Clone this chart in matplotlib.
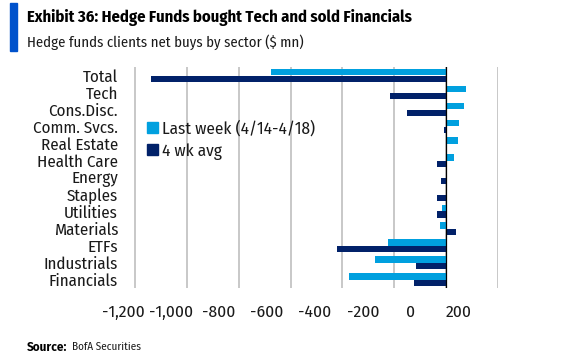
import matplotlib.pyplot as plt
import matplotlib.patches as mpatches
import numpy as np

plt.rcParams['font.family'] = ['Fira Sans Condensed', 'DejaVu Sans']

sectors = ["Total", "Tech", "Cons.Disc.", "Comm. Svcs.", "Real Estate", "Health Care",
           "Energy", "Staples", "Utilities", "Materials", "ETFs", "Industrials", "Financials"]
last_week = [-674, 75, 67, 50, 46, 31, -2, -2, -15, -23, -226, -275, -373]
four_wk_avg = [-1139, -218, -151, -8, 3, -34, -19, -36, -35, 39, -422, -116, -125]
xticks = [-1200, -1000, -800, -600, -400, -200, 0, 200]

light = "#00A0DF"
dark = "#012169"

W, H = 568, 357
fig = plt.figure(figsize=(W / 100, H / 100), dpi=100)
px_per = 363 / 1400
left_px = 135 - 60 * px_per
ax = fig.add_axes([left_px / W, 1 - 288 / H, (498 - left_px) / W, 221 / H])

y = np.arange(len(sectors))
ax.barh(y - 0.2, last_week, height=0.4, color=light, label="Last week (4/14-4/18)", zorder=3)
ax.barh(y + 0.2, four_wk_avg, height=0.4, color=dark, label="4 wk avg", zorder=3)
ax.axvline(0, color="black", lw=0.9, zorder=4)

ax.set_xlim(-1260, 200)
ax.set_ylim(len(sectors) - 0.5, -0.5)
ax.set_xticks(xticks)
ax.grid(axis="x", color="#BFBFBF", lw=1.2, zorder=0)
ax.tick_params(axis="x", labelbottom=False, length=0)
ax.set_yticks(y)
ax.set_yticklabels(sectors, fontsize=12.2, color="#1a1a1a")
ax.tick_params(axis="y", length=0, pad=1)
for s in ax.spines.values():
    s.set_visible(False)


# tick labels sit on their own scale in the original
def fwd(v):
    px = 135 + (np.asarray(v) + 1200) * px_per
    return (px - 411) / 0.24


def inv(v):
    px = 411 + 0.24 * np.asarray(v)
    return (px - 135) / px_per - 1200


sec = ax.secondary_xaxis("bottom", functions=(fwd, inv))
sec.set_xticks(xticks)
sec.set_xticklabels([f"{t:,}" for t in xticks], fontsize=12.5, color="#1a1a1a")
sec.tick_params(length=0, pad=12)
sec.spines["bottom"].set_visible(False)

handles = [mpatches.Patch(color=light), mpatches.Patch(color=dark)]
fig.legend(handles, ["Last week (4/14-4/18)", "4 wk avg"], loc="upper left",
           bbox_to_anchor=(147 / W, 1 - 120 / H), frameon=False, fontsize=12.4,
           handlelength=0.65, handleheight=0.6, handletextpad=0.2,
           labelspacing=0.37, borderpad=0, borderaxespad=0, labelcolor="#1a1a1a")

fig.patches.append(mpatches.Rectangle((10 / W, 1 - 51 / H), 7 / W, 48 / H,
                                      transform=fig.transFigure, color="#0052CC"))
fig.text(27 / W, 1 - 18 / H, "Exhibit 36: Hedge Funds bought Tech and sold Financials",
         fontsize=11.9, fontweight="bold", va="center", ha="left", color="black")
fig.text(27 / W, 1 - 42 / H, "Hedge funds clients net buys by sector ($ mn)",
         fontsize=10.6, va="center", ha="left", color="#1a1a1a")
fig.text(27 / W, 1 - 347 / H, "Source:", fontsize=8.5, fontweight="bold",
         va="center", ha="left", color="black", family="Fira Sans")
fig.text(72 / W, 1 - 347 / H, "BofA Securities", fontsize=8,
         va="center", ha="left", color="#1a1a1a")

fig.savefig("out.png", dpi=100)
